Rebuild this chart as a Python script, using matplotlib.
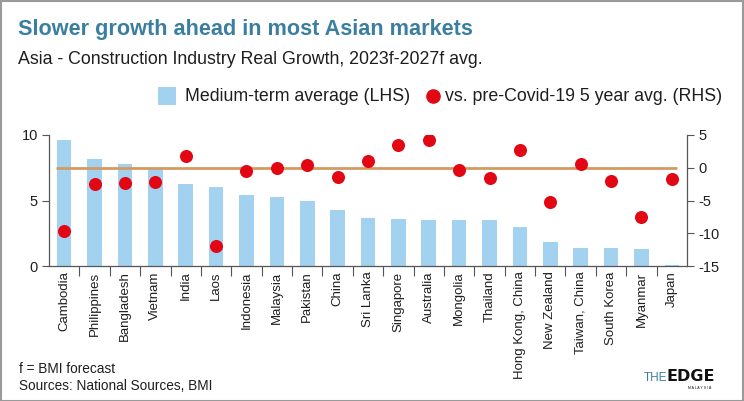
import matplotlib
matplotlib.use("Agg")
import matplotlib.pyplot as plt
from matplotlib.patches import Rectangle
from matplotlib.lines import Line2D
import numpy as np

plt.rcParams['font.family'] = ['Liberation Sans', 'DejaVu Sans']
plt.rcParams['axes.unicode_minus'] = False

countries = ["Cambodia", "Philippines", "Bangladesh", "Vietnam", "India", "Laos",
             "Indonesia", "Malaysia", "Pakistan", "China", "Sri Lanka", "Singapore",
             "Australia", "Mongolia", "Thailand", "Hong Kong, China", "New Zealand",
             "Taiwan, China", "South Korea", "Myanmar", "Japan"]
medium_term = [9.6, 8.2, 7.8, 7.4, 6.26, 6.0, 5.45, 5.25, 5.0, 4.25, 3.7, 3.6,
               3.5, 3.5, 3.5, 3.0, 1.85, 1.37, 1.37, 1.3, 0.06]
vs_precovid = [-9.6, -2.5, -2.3, -2.1, 1.85, -11.9, -0.5, 0.0, 0.4, -1.4, 1.1, 3.4,
               4.2, -0.4, -1.55, 2.7, -5.2, 0.6, -2.0, -7.55, -1.65]

BAR_C = "#a3d2f0"
DOT_C = "#e30613"
LINE_C = "#d39a62"
TEAL = "#3a7fa0"
GRAY = "#555555"
TXT = "#1e1e1e"

W, H = 744, 401
def fx(px):
    return px / W
def fy(py):
    return 1 - py / H

fig = plt.figure(figsize=(7.44, 4.01), dpi=100)
fig.patch.set_facecolor("white")
fig.patches.append(Rectangle((0.0007, 0.001), 0.9986, 0.997, transform=fig.transFigure,
                             fill=False, edgecolor="#9a9a9a", linewidth=1.5))

ax = fig.add_axes([fx(49), fy(266), (687-49)/W, (266-135)/H])
x = np.arange(len(countries))
ax.bar(x, medium_term, width=0.48, color=BAR_C, zorder=2)
ax.set_xlim(-0.5, len(countries)-0.5)
ax.set_ylim(0, 10)
ax.set_yticks([0, 5, 10])
ax.set_xticks(x)
ax.set_xticklabels(countries, rotation=90, fontsize=9.5, color=TXT)
ax.set_xticks(np.arange(len(countries)-1) + 0.5, minor=True)
ax.tick_params(axis='x', which='major', length=0, pad=4)
ax.tick_params(axis='x', which='minor', length=7, color=GRAY, width=0.8)
ax.tick_params(axis='y', length=5, color=GRAY, width=0.8, labelsize=10.5, pad=3,
               labelcolor=TXT)
for s in ['top', 'right']:
    ax.spines[s].set_visible(False)
for s in ['left', 'bottom']:
    ax.spines[s].set_color(GRAY)
    ax.spines[s].set_linewidth(0.9)

ax2 = ax.twinx()
ax2.set_ylim(-15, 5)
ax2.set_yticks([-15, -10, -5, 0, 5])
ax2.hlines(0, -0.27, len(countries)-1+0.18, color=LINE_C, linewidth=2, zorder=3)
ax2.scatter(x, vs_precovid, s=88, color=DOT_C, zorder=4, linewidths=0)
ax2.tick_params(axis='y', length=5, color=GRAY, width=0.8, labelsize=10.5, pad=3,
                labelcolor=TXT)
for s in ['top', 'left', 'bottom']:
    ax2.spines[s].set_visible(False)
ax2.spines['right'].set_color(GRAY)
ax2.spines['right'].set_linewidth(0.9)

fig.text(fx(18), fy(35.5), "Slower growth ahead in most Asian markets", fontsize=15.6,
         fontweight='bold', color=TEAL, va='baseline')
fig.text(fx(18), fy(63.5), "Asia - Construction Industry Real Growth, 2023f-2027f avg.",
         fontsize=12.8, color=TXT, va='baseline')

# legend
fig.patches.append(Rectangle((fx(158), fy(105)), 18/W, 18/H, transform=fig.transFigure,
                             facecolor=BAR_C, edgecolor='none'))
fig.text(fx(185), fy(101), "Medium-term average (LHS)", fontsize=12.8, color=TXT,
         va='baseline')
fig.add_artist(Line2D([fx(433)], [fy(96)], marker='o', markersize=9.5, color=DOT_C,
                      linestyle='none', transform=fig.transFigure))
fig.text(fx(445), fy(101), "vs. pre-Covid-19 5 year avg. (RHS)", fontsize=12.8,
         color=TXT, va='baseline')

fig.text(fx(19), fy(373), "f = BMI forecast", fontsize=9.8, color=TXT, va='baseline')
fig.text(fx(19), fy(390), "Sources: National Sources, BMI", fontsize=9.8, color=TXT,
         va='baseline')

fig.text(fx(644), fy(381), "THE", fontsize=8.5, color=TEAL, va='baseline')
fig.text(fx(666), fy(381), "EDGE", fontsize=11.5, color="#111111", fontweight='heavy',
         va='baseline', family=['DejaVu Sans'])
fig.text(fx(688), fy(389), "M A L A Y S I A", fontsize=2.5, color="#111111")

fig.savefig("out.png", dpi=100, facecolor="white")
